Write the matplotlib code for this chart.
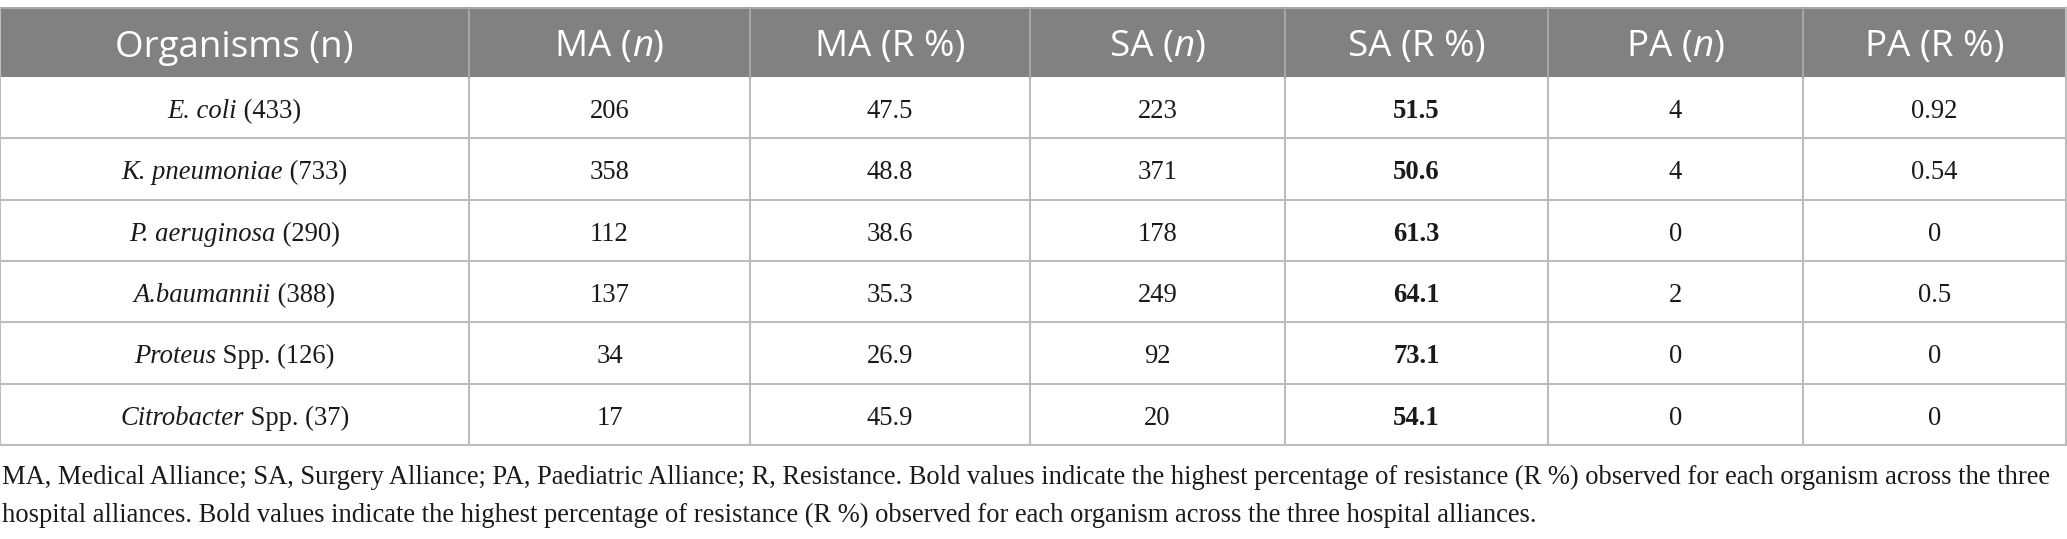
import matplotlib
matplotlib.use("Agg")
import matplotlib.pyplot as plt

# Données du tableau
headers = ["Organisms (n)", "MA (n)", "MA (R %)", "SA (n)", "SA (R %)", "PA (n)", "PA (R %)"]
organism_italic = ["E. coli", "K. pneumoniae", "P. aeruginosa", "A.baumannii", "Proteus", "Citrobacter"]
organism_rest = [" (433)", " (733)", " (290)", " (388)", " Spp. (126)", " Spp. (37)"]
ma_n = [206, 358, 112, 137, 34, 17]
ma_r = [47.5, 48.8, 38.6, 35.3, 26.9, 45.9]
sa_n = [223, 371, 178, 249, 92, 20]
sa_r = [51.5, 50.6, 61.3, 64.1, 73.1, 54.1]
pa_n = [4, 4, 0, 2, 0, 0]
pa_r = [0.92, 0.54, 0, 0.5, 0, 0]
footnote = [
    "MA, Medical Alliance; SA, Surgery Alliance; PA, Paediatric Alliance; R, Resistance. "
    "Bold values indicate the highest percentage of resistance (R %) observed for each organism across the three",
    "hospital alliances. Bold values indicate the highest percentage of resistance (R %) observed "
    "for each organism across the three hospital alliances.",
]

# Géométrie (en pixels)
W, H = 2067, 539
col_edges = [0, 469, 750, 1030, 1285, 1548, 1803, 2066]
head_top, head_bot = 8, 77
row_h = 61.3
n_rows = len(organism_italic)

HEAD_BG = "#808180"
GRID = "#bdbdbd"
TXT = "#1a1a1a"
SERIF = "Liberation Serif"
SANS = "Open Sans"
FS_HEAD = 26.5
FS_BODY = 19.2
FS_NOTE = 19.1

fig = plt.figure(figsize=(W / 100, H / 100), dpi=100)
ax = fig.add_axes([0, 0, 1, 1])
ax.set_xlim(0, W)
ax.set_ylim(H, 0)
ax.axis("off")
renderer = fig.canvas.get_renderer()


def segments(xc, yb, segs, **common):
    # Texte centré composé de plusieurs morceaux de styles différents
    items = []
    for s, kw in segs:
        t = ax.text(0, yb, s, ha="left", va="baseline", **common, **kw)
        items.append(t)
    widths = [t.get_window_extent(renderer).width for t in items]
    x = xc - sum(widths) / 2
    for t, w in zip(items, widths):
        t.set_x(x)
        x += w


# En-tête
ax.fill_between([0, W], head_top, head_bot, color=HEAD_BG, lw=0)
ax.plot([0, W], [head_top, head_top], color="#a8a8a8", lw=1.5)
centers = [(col_edges[i] + col_edges[i + 1]) / 2 for i in range(len(headers))]
for i, h in enumerate(headers):
    yb = (head_top + head_bot) / 2 + 14
    if "(n)" in h and i > 0:
        base = h.replace("(n)", "")
        segments(centers[i], yb, [(base + "(", {}), ("n", {"style": "italic"}), (")", {})],
                 color="white", fontsize=FS_HEAD, family=SANS)
    else:
        segments(centers[i], yb, [(h, {})], color="white", fontsize=FS_HEAD, family=SANS)

# Lignes du tableau
row_tops = [head_bot + k * row_h for k in range(n_rows + 1)]
for k in range(n_rows):
    yb = (row_tops[k] + row_tops[k + 1]) / 2 + 10.5
    segments(centers[0], yb, [(organism_italic[k], {"style": "italic"}), (organism_rest[k], {})],
             color=TXT, fontsize=FS_BODY, family=SERIF)
    best = max(ma_r[k], sa_r[k], pa_r[k])
    cells = [ma_n[k], ma_r[k], sa_n[k], sa_r[k], pa_n[k], pa_r[k]]
    for j, v in enumerate(cells):
        is_r = j % 2 == 1
        weight = "bold" if is_r and v == best else "normal"
        ax.text(centers[j + 1], yb, f"{v:g}", ha="center", va="baseline",
                color=TXT, fontsize=FS_BODY, family=SERIF, weight=weight)

# Grille
for y in row_tops[1:]:
    ax.plot([0, W], [y, y], color=GRID, lw=1.5)
for x in col_edges:
    ax.plot([x, x], [head_top, row_tops[-1]], color=GRID, lw=1.5)
for x in col_edges[1:-1]:
    ax.plot([x, x], [head_top, head_bot], color="#a5a5a5", lw=1.5)

# Note de bas de tableau
for k, line in enumerate(footnote):
    ax.text(2, 484 + k * 38, line, ha="left", va="baseline", color=TXT, fontsize=FS_NOTE, family=SERIF)

fig.savefig("out.png", dpi=100)
